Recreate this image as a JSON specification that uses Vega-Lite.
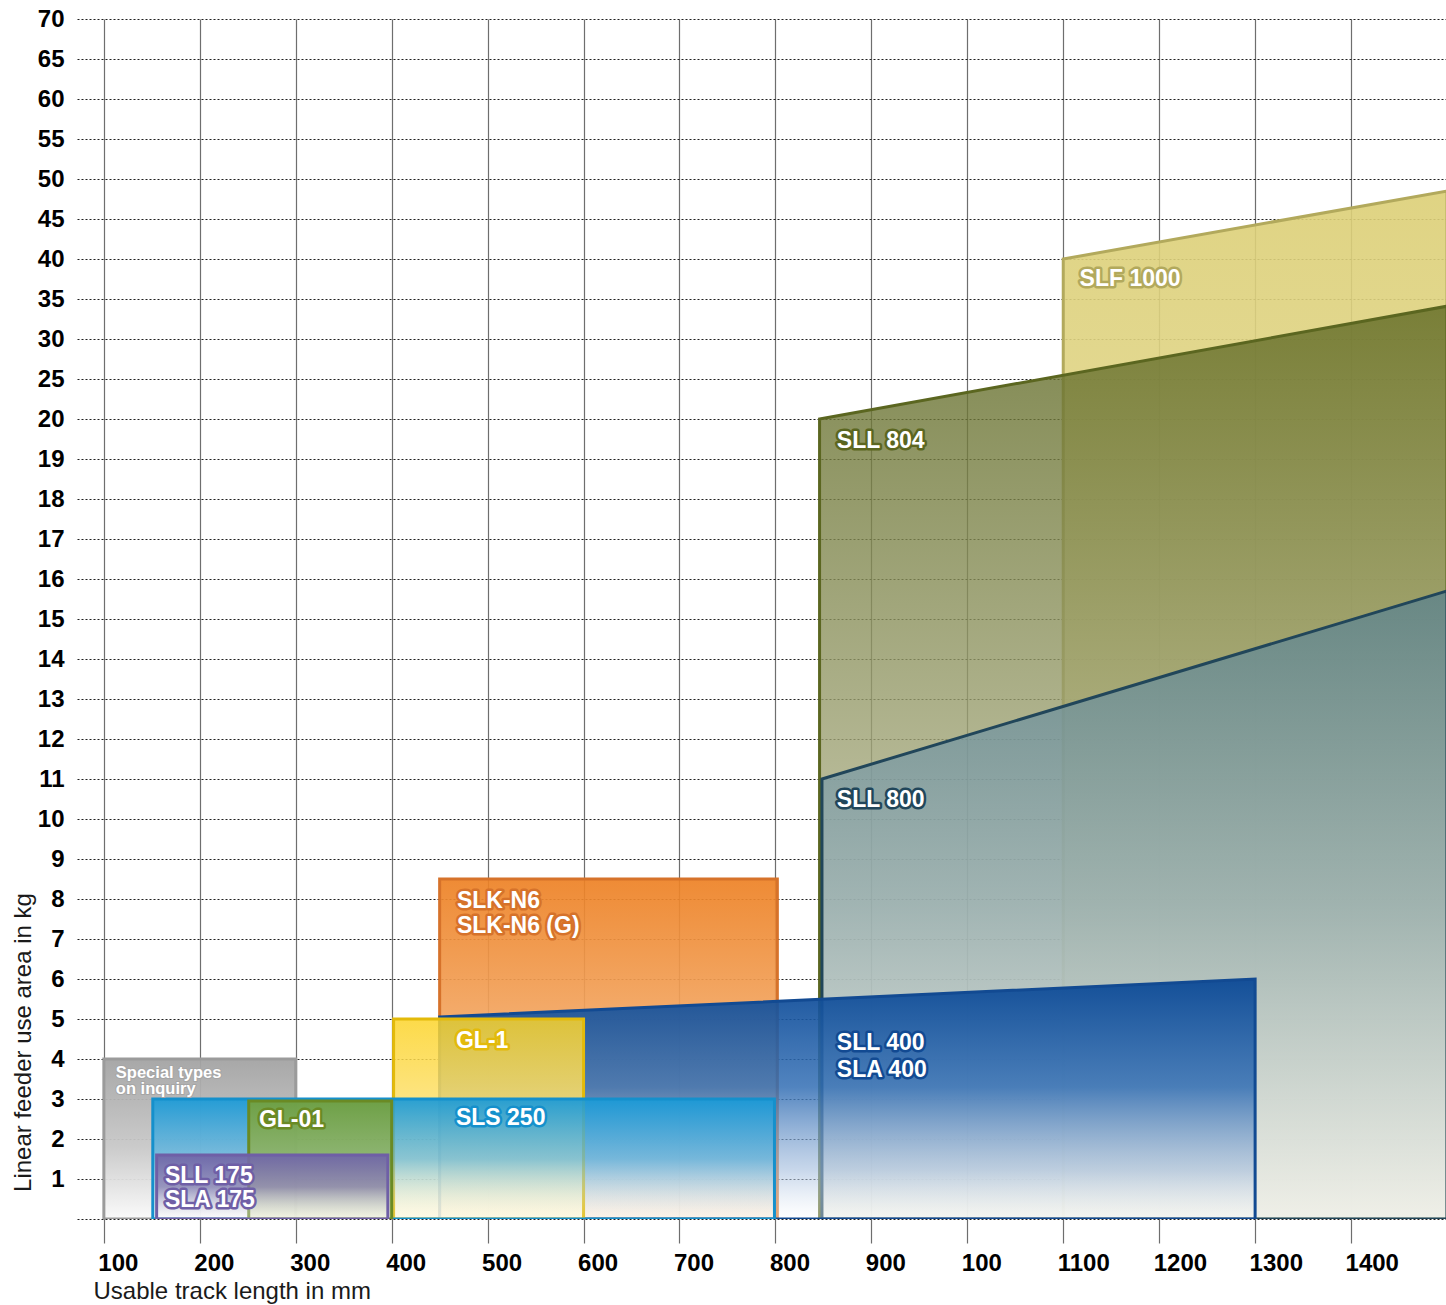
{
  "$schema": "https://vega.github.io/schema/vega-lite/v6.json",
  "width": 1370,
  "height": 1200,
  "autosize": {"type": "none"},
  "padding": {"left": 77, "top": 19, "right": 0, "bottom": 86},
  "background": "#ffffff",
  "config": {"view": {"stroke": null}, "font": "Liberation Sans"},
  "datasets": {
    "shapes": [
      {"series": "SLF 1000", "x": 1100, "top": 40},
      {"series": "SLF 1000", "x": 1500, "top": 48.5},
      {"series": "SLL 804", "x": 846, "top": 20},
      {"series": "SLL 804", "x": 1500, "top": 34.1},
      {"series": "SLL 800", "x": 848.5, "top": 11},
      {"series": "SLL 800", "x": 1500, "top": 15.7},
      {"series": "Special types", "x": 100, "top": 4},
      {"series": "Special types", "x": 300, "top": 4},
      {"series": "SLK-N6", "x": 450, "top": 8.5},
      {"series": "SLK-N6", "x": 802, "top": 8.5},
      {"series": "SLL 400", "x": 450, "top": 5.05},
      {"series": "SLL 400", "x": 1300, "top": 6},
      {"series": "GL-1", "x": 402, "top": 5},
      {"series": "GL-1", "x": 600, "top": 5},
      {"series": "SLS 250", "x": 151, "top": 3},
      {"series": "SLS 250", "x": 799, "top": 3},
      {"series": "GL-01", "x": 251, "top": 2.95},
      {"series": "GL-01", "x": 400, "top": 2.95},
      {"series": "SLL 175", "x": 155, "top": 1.6},
      {"series": "SLL 175", "x": 396, "top": 1.6}
    ],
    "labels": [
      {"series": "SLF 1000", "text": "SLF 1000", "x": 1117, "top": 36.6},
      {"series": "SLL 804", "text": "SLL 804", "x": 864, "top": 19.28},
      {"series": "SLL 800", "text": "SLL 800", "x": 864, "top": 10.3},
      {"series": "SLK-N6", "text": "SLK-N6", "x": 468, "top": 7.78},
      {"series": "SLK-N6", "text": "SLK-N6 (G)", "x": 468, "top": 7.15},
      {"series": "GL-1", "text": "GL-1", "x": 467, "top": 4.28},
      {"series": "SLS 250", "text": "SLS 250", "x": 467, "top": 2.35},
      {"series": "SLL 400", "text": "SLL 400", "x": 864, "top": 4.22},
      {"series": "SLL 400", "text": "SLA 400", "x": 864, "top": 3.55},
      {"series": "GL-01", "text": "GL-01", "x": 261.6, "top": 2.3},
      {"series": "SLL 175", "text": "SLL 175", "x": 163.6, "top": 0.9},
      {"series": "SLL 175", "text": "SLA 175", "x": 163.6, "top": 0.3},
      {"series": "Special types", "text": "Special types", "x": 112.5, "top": 3.53},
      {"series": "Special types", "text": "on inquiry", "x": 112.5, "top": 3.13}
    ]
  },
  "encoding": {
    "x": {
      "field": "x",
      "type": "quantitative",
      "scale": {"domain": [72, 1500], "nice": false, "zero": false},
      "axis": {
        "title": "Usable track length in mm",
        "values": [100, 200, 300, 400, 500, 600, 700, 800, 900, 1000, 1100, 1200, 1300, 1400],
        "format": "d",
        "labelExpr": "datum.value == 1000 ? '100' : datum.label",
        "grid": true,
        "gridColor": "#6e6e6e",
        "gridWidth": 1.2,
        "ticks": true,
        "tickSize": 24,
        "tickColor": "#6e6e6e",
        "tickWidth": 1.2,
        "domain": false,
        "labelAlign": "left",
        "labelBaseline": "alphabetic",
        "labelPadding": 27,
        "labelOffset": -6,
        "labelFlush": false,
        "labelOverlap": false,
        "labelBound": false,
        "labelFont": "Liberation Sans",
        "labelFontSize": 24,
        "labelFontWeight": "bold",
        "labelColor": "#000000",
        "titleFont": "Liberation Sans",
        "titleFontSize": 24,
        "titleFontWeight": "normal",
        "titleColor": "#1a1a1a",
        "titleX": 16,
        "titleY": 79,
        "titleAlign": "left",
        "titleBaseline": "alphabetic"
      }
    },
    "y": {
      "field": "top",
      "type": "quantitative",
      "scale": {"domain": [0, 20, 70], "range": [1200, 400, 0], "nice": false, "zero": false},
      "axis": {
        "title": "Linear feeder use area in kg",
        "values": [0, 1, 2, 3, 4, 5, 6, 7, 8, 9, 10, 11, 12, 13, 14, 15, 16, 17, 18, 19, 20, 25, 30, 35, 40, 45, 50, 55, 60, 65, 70],
        "labelExpr": "datum.value == 0 ? '' : datum.label",
        "grid": true,
        "gridColor": "#1e1e1e",
        "gridDash": [2, 2],
        "gridWidth": 1,
        "ticks": false,
        "tickSize": 0,
        "domain": false,
        "labelAlign": "right",
        "labelBaseline": "middle",
        "labelPadding": 13,
        "labelFlush": false,
        "labelOverlap": false,
        "labelBound": false,
        "labelFont": "Liberation Sans",
        "labelFontSize": 24,
        "labelFontWeight": "bold",
        "labelColor": "#000000",
        "titleFont": "Liberation Sans",
        "titleFontSize": 24,
        "titleFontWeight": "normal",
        "titleColor": "#1a1a1a",
        "titleAngle": -90,
        "titleX": -47,
        "titleY": 1023,
        "titleAlign": "center",
        "titleBaseline": "alphabetic"
      }
    }
  },
  "layer": [
    {
      "data": {"name": "shapes"},
      "transform": [{"filter": "datum.series == 'SLF 1000'"}],
      "mark": {"type": "area", "clip": true, "fillOpacity": 0.9, "stroke": "#b2a95c", "strokeWidth": 3,
        "fill": {"gradient": "linear", "x1": 0, "y1": 0, "x2": 0, "y2": 1,
          "stops": [{"offset": 0, "color": "#dccf76"}, {"offset": 0.55, "color": "#e5dc9c"}, {"offset": 1, "color": "#f8f5e4"}]}},
      "encoding": {"y2": {"datum": 0}}
    },
    {
      "data": {"name": "shapes"},
      "transform": [{"filter": "datum.series == 'SLL 804'"}],
      "mark": {"type": "area", "clip": true, "fillOpacity": 0.8, "stroke": "#5b6620", "strokeWidth": 3,
        "fill": {"gradient": "linear", "x1": 0, "y1": 0, "x2": 0, "y2": 1,
          "stops": [{"offset": 0, "color": "#5f6923"}, {"offset": 0.5, "color": "#a0a477"}, {"offset": 1, "color": "#ebe9da"}]}},
      "encoding": {"y2": {"datum": 0}}
    },
    {
      "data": {"name": "shapes"},
      "transform": [{"filter": "datum.series == 'SLL 800'"}],
      "mark": {"type": "area", "clip": true, "fillOpacity": 0.72, "stroke": "#21465a", "strokeWidth": 3,
        "fill": {"gradient": "linear", "x1": 0, "y1": 0, "x2": 0, "y2": 1,
          "stops": [{"offset": 0, "color": "#557f90"}, {"offset": 0.5, "color": "#93adb6"}, {"offset": 1, "color": "#f0f1ec"}]}},
      "encoding": {"y2": {"datum": 0}}
    },
    {
      "data": {"name": "shapes"},
      "transform": [{"filter": "datum.series == 'Special types'"}],
      "mark": {"type": "area", "clip": true, "fillOpacity": 0.95, "stroke": "#9b9b9b", "strokeWidth": 3,
        "fill": {"gradient": "linear", "x1": 0, "y1": 0, "x2": 0, "y2": 1,
          "stops": [{"offset": 0, "color": "#a3a3a3"}, {"offset": 0.55, "color": "#c8c8c8"}, {"offset": 1, "color": "#fafafa"}]}},
      "encoding": {"y2": {"datum": 0}}
    },
    {
      "data": {"name": "shapes"},
      "transform": [{"filter": "datum.series == 'SLK-N6'"}],
      "mark": {"type": "area", "clip": true, "fillOpacity": 0.92, "stroke": "#d6722a", "strokeWidth": 3,
        "fill": {"gradient": "linear", "x1": 0, "y1": 0, "x2": 0, "y2": 1,
          "stops": [{"offset": 0, "color": "#ed8124"}, {"offset": 0.45, "color": "#f3a865"}, {"offset": 1, "color": "#fde8d0"}]}},
      "encoding": {"y2": {"datum": 0}}
    },
    {
      "data": {"name": "shapes"},
      "transform": [{"filter": "datum.series == 'SLL 400'"}],
      "mark": {"type": "area", "clip": true, "stroke": "#124a92", "strokeWidth": 3,
        "fill": {"gradient": "linear", "x1": 0, "y1": 0, "x2": 0, "y2": 1,
          "stops": [{"offset": 0, "color": "rgba(11,73,150,0.95)"}, {"offset": 0.45, "color": "rgba(50,110,180,0.85)"}, {"offset": 0.8, "color": "rgba(165,190,222,0.6)"}, {"offset": 1, "color": "rgba(255,255,255,0.35)"}]}},
      "encoding": {"y2": {"datum": 0}}
    },
    {
      "data": {"name": "shapes"},
      "transform": [{"filter": "datum.series == 'GL-1'"}],
      "mark": {"type": "area", "clip": true, "fillOpacity": 0.85, "stroke": "#e3ba0a", "strokeWidth": 3,
        "fill": {"gradient": "linear", "x1": 0, "y1": 0, "x2": 0, "y2": 1,
          "stops": [{"offset": 0, "color": "#fcd42a"}, {"offset": 0.5, "color": "#fde27a"}, {"offset": 1, "color": "#fff8dc"}]}},
      "encoding": {"y2": {"datum": 0}}
    },
    {
      "data": {"name": "shapes"},
      "transform": [{"filter": "datum.series == 'SLS 250'"}],
      "mark": {"type": "area", "clip": true, "stroke": "#1590cc", "strokeWidth": 3,
        "fill": {"gradient": "linear", "x1": 0, "y1": 0, "x2": 0, "y2": 1,
          "stops": [{"offset": 0, "color": "rgba(24,154,216,0.92)"}, {"offset": 0.5, "color": "rgba(90,180,225,0.7)"}, {"offset": 1, "color": "rgba(255,255,255,0.15)"}]}},
      "encoding": {"y2": {"datum": 0}}
    },
    {
      "data": {"name": "shapes"},
      "transform": [{"filter": "datum.series == 'GL-01'"}],
      "mark": {"type": "area", "clip": true, "fillOpacity": 0.92, "stroke": "#6a8a24", "strokeWidth": 3,
        "fill": {"gradient": "linear", "x1": 0, "y1": 0, "x2": 0, "y2": 1,
          "stops": [{"offset": 0, "color": "#74a03a"}, {"offset": 0.5, "color": "#8fb46a"}, {"offset": 1, "color": "#eef0d4"}]}},
      "encoding": {"y2": {"datum": 0}}
    },
    {
      "data": {"name": "shapes"},
      "transform": [{"filter": "datum.series == 'SLL 175'"}],
      "mark": {"type": "area", "clip": true, "stroke": "#6f5fa6", "strokeWidth": 3,
        "fill": {"gradient": "linear", "x1": 0, "y1": 0, "x2": 0, "y2": 1,
          "stops": [{"offset": 0, "color": "rgba(112,102,168,0.95)"}, {"offset": 0.5, "color": "rgba(135,125,175,0.75)"}, {"offset": 1, "color": "rgba(255,255,255,0.3)"}]}},
      "encoding": {"y2": {"datum": 0}}
    },
    {
      "data": {"name": "labels"},
      "transform": [{"filter": "datum.series != 'Special types'"}],
      "mark": {"type": "text", "align": "left", "baseline": "alphabetic", "font": "Liberation Sans", "fontSize": 23, "fontWeight": "bold", "fill": "#ffffff", "strokeWidth": 5, "strokeJoin": "round"},
      "encoding": {
        "text": {"field": "text"},
        "stroke": {"field": "series", "type": "nominal", "legend": null,
          "scale": {"domain": ["SLF 1000", "SLL 804", "SLL 800", "SLK-N6", "GL-1", "SLS 250", "SLL 400", "GL-01", "SLL 175", "Special types"],
            "range": ["#b2a95c", "#5b6620", "#21465a", "#d6722a", "#e3ba0a", "#1590cc", "#124a92", "#6a8a24", "#6f5fa6", "#a5a5a5"]}}
      }
    },
    {
      "data": {"name": "labels"},
      "transform": [{"filter": "datum.series != 'Special types'"}],
      "mark": {"type": "text", "align": "left", "baseline": "alphabetic", "font": "Liberation Sans", "fontSize": 23, "fontWeight": "bold", "fill": "#ffffff"},
      "encoding": {"text": {"field": "text"}}
    },
    {
      "data": {"name": "labels"},
      "transform": [{"filter": "datum.series == 'Special types'"}],
      "mark": {"type": "text", "align": "left", "baseline": "alphabetic", "font": "Liberation Sans", "fontSize": 16.5, "fontWeight": "bold", "fill": "#ffffff", "strokeWidth": 2, "strokeJoin": "round"},
      "encoding": {
        "text": {"field": "text"},
        "stroke": {"field": "series", "type": "nominal", "legend": null}
      }
    },
    {
      "data": {"name": "labels"},
      "transform": [{"filter": "datum.series == 'Special types'"}],
      "mark": {"type": "text", "align": "left", "baseline": "alphabetic", "font": "Liberation Sans", "fontSize": 16.5, "fontWeight": "bold", "fill": "#ffffff"},
      "encoding": {"text": {"field": "text"}}
    }
  ]
}
